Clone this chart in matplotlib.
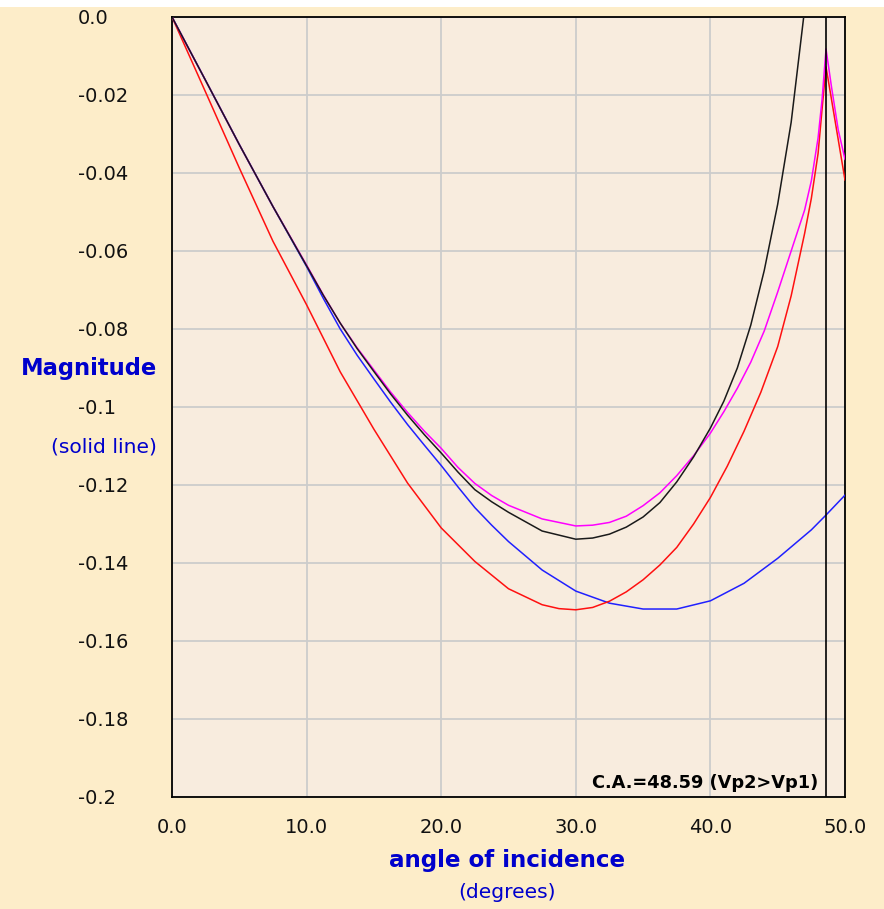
import numpy as np
import matplotlib
matplotlib.use("Agg")
import matplotlib.pyplot as plt
from matplotlib.patches import Rectangle

# 颜色配置
PANEL_BG = "#FDEDC9"
PLOT_BG = "#F8ECDE"
GRID_COLOR = "#CCCCCC"
LABEL_BLUE = "#0000CC"

CRITICAL_ANGLE = 48.59

# --- 数据 ---
# 黑线
black_deg = [0.0, 2.5, 5.0, 7.5, 10.0, 11.25, 12.5, 13.75, 15.0, 16.25, 17.5, 18.75,
             20.0, 21.25, 22.5, 23.75, 25.0, 27.5, 30.0, 31.25, 32.5, 33.75, 35.0,
             36.25, 37.5, 38.75, 40.0, 41.0, 42.0, 43.0, 44.0, 45.0, 46.0, 47.0]
black_val = [0.0, -0.0163, -0.0327, -0.0486, -0.0638, -0.0714, -0.0785, -0.0850,
             -0.0909, -0.0967, -0.1021, -0.1071, -0.1118, -0.1167, -0.1212, -0.1243,
             -0.1270, -0.1318, -0.1339, -0.1336, -0.1326, -0.1308, -0.1282,
             -0.1245, -0.1192, -0.1128, -0.1054, -0.0985, -0.0900, -0.0790,
             -0.0650, -0.0480, -0.0270, 0.0020]

# 品红线
magenta_deg = [0.0, 2.5, 5.0, 7.5, 10.0, 11.25, 12.5, 13.75, 15.0, 16.25, 17.5,
               18.75, 20.0, 21.25, 22.5, 23.75, 25.0, 27.5, 30.0, 31.25, 32.5, 33.75,
               35.0, 36.25, 37.5, 38.75, 40.0, 41.0, 42.0, 43.0, 44.0, 45.0, 46.0,
               47.0, 47.5, 48.0, 48.3, 48.59, 49.0, 49.5, 50.0]
magenta_val = [0.0, -0.0163, -0.0327, -0.0486, -0.0636, -0.0713, -0.0785, -0.0848,
               -0.0905, -0.0962, -0.1014, -0.1062, -0.1106, -0.1155, -0.1196, -0.1227,
               -0.1252, -0.1287, -0.1305, -0.1303, -0.1296, -0.1280, -0.1253,
               -0.1220, -0.1176, -0.1125, -0.1067, -0.1012, -0.0952, -0.0885,
               -0.0805, -0.0705, -0.0600, -0.0495, -0.0420, -0.0310, -0.0210,
               -0.0082, -0.0180, -0.0290, -0.0365]

# 蓝线
blue_deg = [0.0, 2.5, 5.0, 7.5, 10.0, 11.25, 12.5, 13.75, 15.0, 16.25, 17.5, 18.75,
            20.0, 21.25, 22.5, 23.75, 25.0, 27.5, 30.0, 32.5, 35.0, 37.5, 40.0,
            42.5, 45.0, 47.5, 48.59, 50.0]
blue_val = [0.0, -0.0163, -0.0327, -0.0486, -0.0640, -0.0722, -0.0800, -0.0867,
            -0.0928, -0.0988, -0.1045, -0.1098, -0.1150, -0.1205, -0.1258, -0.1303,
            -0.1345, -0.1418, -0.1472, -0.1503, -0.1518, -0.1518, -0.1497,
            -0.1452, -0.1388, -0.1315, -0.1277, -0.1226]

# 红线
red_deg = [0.0, 2.5, 5.0, 7.5, 10.0, 12.5, 15.0, 17.5, 20.0, 22.5, 25.0, 27.5,
           28.75, 30.0, 31.25, 32.5, 33.75, 35.0, 36.25, 37.5, 38.75, 40.0, 41.25,
           42.5, 43.75, 45.0, 46.0, 47.0, 47.5, 48.0, 48.3, 48.59, 49.0, 49.5, 50.0]
red_val = [0.0, -0.0193, -0.0387, -0.0575, -0.0738, -0.0910, -0.1057, -0.1195,
           -0.1310, -0.1396, -0.1466, -0.1507, -0.1517, -0.1520, -0.1514, -0.1498,
           -0.1474, -0.1443, -0.1405, -0.1360, -0.1300, -0.1232, -0.1152,
           -0.1062, -0.0962, -0.0845, -0.0715, -0.0555, -0.0465, -0.0350,
           -0.0235, -0.0128, -0.0212, -0.0315, -0.0418]

x_ticks = [0.0, 10.0, 20.0, 30.0, 40.0, 50.0]
x_tick_labels = ["0.0", "10.0", "20.0", "30.0", "40.0", "50.0"]
y_ticks = [0.0, -0.02, -0.04, -0.06, -0.08, -0.1, -0.12, -0.14, -0.16, -0.18, -0.2]
y_tick_labels = ["0.0", "-0.02", "-0.04", "-0.06", "-0.08", "-0.1",
                 "-0.12", "-0.14", "-0.16", "-0.18", "-0.2"]

plt.rcParams.update({
    "font.family": "DejaVu Sans",
    "axes.unicode_minus": False,
})

W, H = 884, 909
fig = plt.figure(figsize=(W / 100, H / 100), dpi=100, facecolor=PANEL_BG)

# 顶部白边
fig.patches.append(Rectangle((0, 1 - 7 / H), 1, 7 / H, transform=fig.transFigure,
                             facecolor="white", edgecolor="none", zorder=0))

ax = fig.add_axes([172 / W, 1 - 797 / H, 673 / W, 780 / H])
ax.set_facecolor(PLOT_BG)

ax.plot(blue_deg, blue_val, color="#2020FF", lw=1.1, zorder=3)
ax.plot(red_deg, red_val, color="#FF1010", lw=1.1, zorder=3)
ax.plot(black_deg, black_val, color="#1A1A1A", lw=1.1, zorder=4)
ax.plot(magenta_deg, magenta_val, color="#FF00FF", lw=1.1, zorder=3)

ax.axvline(CRITICAL_ANGLE, color="black", lw=1.2, zorder=5)

ax.set_xlim(0, 50)
ax.set_ylim(-0.2, 0.0)
ax.set_xticks(x_ticks)
ax.set_xticklabels(x_tick_labels)
ax.set_yticks(y_ticks)
ax.set_yticklabels(y_tick_labels)
ax.tick_params(axis="both", length=0, labelsize=14, colors="#111111")
ax.tick_params(axis="x", pad=15)
ax.tick_params(axis="y", pad=68)
for t in ax.get_yticklabels():
    t.set_ha("left")

ax.grid(True, color=GRID_COLOR, lw=1.3, zorder=1)
ax.set_axisbelow(True)
for s in ax.spines.values():
    s.set_color("black")
    s.set_linewidth(1.3)

ax.text(48.0, -0.1964, "C.A.=48.59 (Vp2>Vp1)", ha="right", va="center",
        fontsize=12.8, fontweight="bold", color="black", zorder=6)

# 坐标轴标题
fig.text(157 / W, 1 - 368 / H, "Magnitude", ha="right", va="center",
         fontsize=16.3, fontweight="bold", color=LABEL_BLUE)
fig.text(157 / W, 1 - 447 / H, "(solid line)", ha="right", va="center",
         fontsize=14.6, color=LABEL_BLUE)
fig.text(507 / W, 1 - 860 / H, "angle of incidence", ha="center", va="center",
         fontsize=16.6, fontweight="bold", color=LABEL_BLUE)
fig.text(507 / W, 1 - 893 / H, "(degrees)", ha="center", va="center",
         fontsize=14.6, color=LABEL_BLUE)

fig.savefig("out.png", dpi=100, facecolor=PANEL_BG)
